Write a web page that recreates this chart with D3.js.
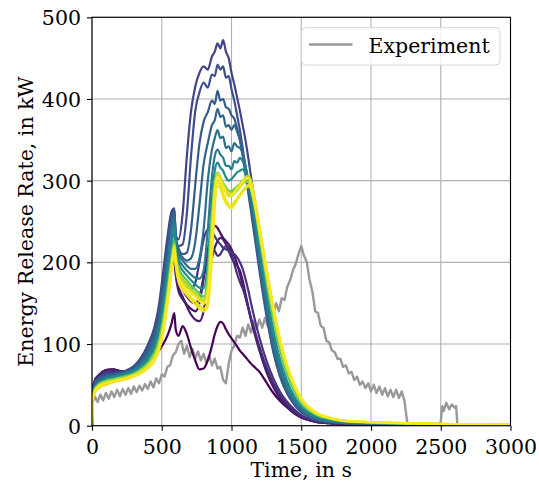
<!DOCTYPE html>
<html>
<head>
<meta charset="utf-8">
<script src="https://cdn.jsdelivr.net/npm/d3@7"></script>
<style>
  html, body { margin: 0; padding: 0; background: #fff; }
  svg { display: block; font-family: "DejaVu Serif", serif; }
</style>
</head>
<body>
<svg id="chart" width="539" height="487"></svg>
<script>
// ---------------- DATA ----------------
const xTicks = [0, 500, 1000, 1500, 2000, 2500, 3000];
const yTicks = [0, 100, 200, 300, 400, 500];
const xLabel = "Time, in s";
const yLabel = "Energy Release Rate, in kW";
const legendLabel = "Experiment";

// Experiment (time in s, HRR in kW)
const expTime = [0,5,20,40,60,80,100,120,140,160,180,200,220,240,260,280,300,320,340,360,380,400,420,440,460,480,500,520,540,560,580,600,620,640,660,680,700,720,740,760,780,800,820,840,860,880,900,920,940,960,980,1000,1020,1040,1060,1080,1100,1120,1140,1160,1180,1200,1220,1240,1260,1280,1300,1320,1340,1360,1380,1400,1420,1440,1460,1480,1500,1520,1540,1560,1580,1600,1620,1640,1660,1680,1700,1720,1740,1760,1780,1800,1820,1840,1860,1880,1900,1920,1940,1960,1980,2000,2020,2040,2060,2080,2100,2120,2140,2160,2180,2200,2220,2240,2260,2280,2300,2320,2340,2360,2380,2400,2420,2440,2460,2480,2500,2510,2520,2540,2560,2580,2600,2610,2620,2700,2800,2900,3000];
const expHRR = [0,28,36,29,38,31,40,33,42,35,44,36,45,38,46,39,48,41,49,43,51,45,54,47,58,52,63,60,72,74,86,90,100,104,88,98,84,94,82,91,80,88,77,86,74,82,70,72,56,52,76,92,98,110,108,120,110,124,114,128,118,130,120,132,122,136,138,150,140,156,154,170,178,190,198,210,220,208,200,178,164,140,138,122,120,104,102,92,90,82,82,72,74,64,66,56,60,50,54,46,52,42,50,40,48,38,46,36,44,35,44,34,42,30,4,2,1,3,1,2,1,2,1,3,1,2,4,24,18,28,20,26,22,24,0,0,0,0,0];

// Simulation runs (common time grid, HRR in kW); runParam drives the viridis colour
const simTime = [0,5,20,50,100,150,200,250,300,350,
                 400,450,480,510,540,570,590,600,620,650,
                 680,710,740,770,800,830,860,880,900,920,
                 940,960,980,1000,1020,1040,1060,1080,1100,1120,
                 1140,1170,1200,1250,1300,1350,1400,1450,1500,1600,
                 1700,1800,2000,2300,2600,3000];

const run01 = [0,45,55,62,68,69,67,66,68,72, 78,86,92,100,110,125,138,118,110,122, 112,95,80,69,70,80,98,112,122,127, 125,118,112,107,102,97,92,88,84,80, 76,71,66,53,40,30,22,15,10,5, 3,2,1.2,0.8,0.5,0.3];
const run02 = [0,44,55,62,68,69,67,66,68,73, 82,96,110,130,160,192,205,185,165,155, 148,143,140,150,180,215,238,245,242,236, 230,226,222,216,208,198,186,172,158,144, 130,112,95,70,50,35,24,16,11,5, 3,2,1.2,0.8,0.5,0.3];
const run03 = [0,44,54,61,67,68,67,66,68,73, 83,98,113,135,166,196,210,188,170,158, 146,136,130,128,140,175,205,218,226,230, 228,222,214,206,200,196,190,178,162,146, 130,110,92,66,47,33,23,15,10,5, 3,2,1.2,0.8,0.5,0.3];
const run04 = [0,43,54,61,66,67,66,66,68,74, 85,102,118,142,175,205,218,196,178,166, 158,152,150,158,182,205,216,214,208,210, 216,220,218,210,198,186,176,168,158,145, 132,114,97,72,52,37,26,18,12,6, 3.5,2.2,1.3,0.9,0.6,0.3];
const run05 = [0,43,53,60,65,66,66,66,69,75, 87,106,124,150,185,215,226,204,186,176, 170,168,175,200,228,240,238,232,226,222, 218,216,214,212,210,206,200,192,180,166, 150,128,108,80,58,41,29,20,13,6.5, 3.8,2.4,1.4,0.9,0.6,0.3];
const run06 = [0,42,53,59,63,64,65,68,73,83, 99,122,148,188,230,262,266,234,228,260, 330,385,415,432,440,436,452,458,468,462, 472,458,450,432,418,402,386,368,350,328, 305,270,228,160,105,68,44,29,19,9, 5,3.4,2.3,1.6,1.1,0.6];
const run07 = [0,41,52,58,62,63,64,67,72,81, 96,118,142,180,222,258,265,232,220,222, 260,330,385,408,420,414,430,428,442,436, 440,426,428,412,398,380,362,340,318,300, 280,240,200,140,92,60,39,26,17,8, 4.6,3.2,2.2,1.5,1,0.6];
const run08 = [0,40,51,57,61,63,64,67,71,79, 93,114,136,172,214,252,263,230,217,210, 212,240,295,345,372,384,398,394,410,398, 400,390,388,380,376,364,350,330,308,285, 262,226,190,135,90,59,39,26,17,8, 4.6,3.2,2.2,1.5,1,0.6];
const run09 = [0,39,49,56,60,62,64,66,70,78, 90,110,130,164,206,246,260,228,214,206, 202,205,225,270,320,346,368,374,388,378, 380,366,368,362,368,360,350,334,314,292, 270,234,198,142,96,63,42,28,18,8.5, 4.8,3.3,2.3,1.6,1.1,0.6];
const run10 = [0,38,48,54,59,61,63,65,69,76, 87,105,124,156,198,240,256,226,210,202, 196,192,192,205,240,300,338,352,362,352, 354,340,342,336,346,342,340,334,318,298, 276,240,204,148,102,68,45,30,20,9.5, 5.4,3.6,2.5,1.7,1.1,0.7];
const run11 = [0,37,47,53,58,60,62,64,68,74, 84,100,118,148,190,232,250,222,205,196, 190,185,181,180,190,240,305,330,338,332, 328,318,318,314,324,322,328,324,316,302, 282,248,212,156,108,73,49,33,22,10.5, 6,4,2.8,1.9,1.2,0.7];
const run12 = [0,36,46,52,57,59,61,63,66,72, 81,96,113,140,180,220,240,218,200,190, 184,178,173,169,168,200,280,312,322,316, 312,304,300,302,306,310,312,314,308,298, 284,254,220,165,117,80,54,36,24,12, 7,4.7,3.3,2.2,1.4,0.8];
const run13 = [0,35,45,51,55,57,59,61,64,69, 77,90,105,130,166,206,226,210,194,184, 178,172,167,162,158,185,262,298,310,304, 297,292,288,287,290,293,296,300,302,300, 290,264,232,178,130,91,62,42,28,14, 8.5,5.7,3.8,2.5,1.7,1];
const run14 = [0,34,44,50,54,56,58,60,63,68, 75,87,101,125,160,200,222,207,190,180, 174,168,163,158,154,175,250,292,306,300, 292,286,282,281,284,288,292,296,299,298, 290,266,236,184,137,97,67,46,30,15, 9,6,4,2.7,1.8,1];
const run15 = [0,33,43,49,53,55,57,59,62,66, 73,84,97,120,155,196,220,204,186,176, 170,165,160,156,152,168,240,292,309,304, 296,290,286,284,287,292,296,300,304,306, 300,276,245,194,146,104,73,50,33,16.5, 9.8,6.3,4.4,2.9,2,1.2];
const run16 = [0,30,40,46,50,53,55,57,60,64, 70,80,92,113,146,188,214,198,178,168, 162,157,152,147,143,150,215,275,298,295, 285,276,271,270,274,278,283,288,292,295, 290,268,238,186,140,100,70,48,32,16, 9.5,6,4.2,2.8,1.9,1.1];
const run17 = [0,31,41,47,51,54,56,58,61,65, 72,83,95,118,152,194,216,196,176,166, 160,154,148,144,140,146,205,268,294,290, 280,272,268,266,270,276,281,286,290,293, 292,270,240,190,143,102,72,50,33,16.5, 9.8,6.2,4.3,2.9,2,1.1];
const run18 = [0,32,42,48,52,54,56,58,61,65, 71,82,94,116,150,192,218,200,182,172, 166,162,158,153,149,160,230,285,305,300, 292,285,280,282,285,290,293,298,302,303, 296,272,243,192,145,105,74,51,34,17, 10,6.5,4.5,3,2,1.2];

const runParam = [0.00,0.04,0.08,0.12,0.15,0.20,0.24,0.28,0.32,0.36,0.42,0.48,0.75,0.85,0.92,0.96,0.98,1.00];
const runs = [run01,run02,run03,run04,run05,run06,run07,run08,run09,run10,run11,run12,run13,run14,run15,run16,run17,run18];

// ---------------- CHART ----------------
const svg = d3.select("#chart");
const L = 92, R = 510.5, T = 17.3, B = 425.7;
const FONT = 20.5;

const x = d3.scaleLinear().domain([0, 3000]).range([L, R]);
const y = d3.scaleLinear().domain([0, 500]).range([B, T]);
const color = d3.scaleSequential(d3.interpolateViridis).domain([0, 1]);

svg.append("rect").attr("x",0).attr("y",0).attr("width",539).attr("height",487).attr("fill","#fff");

svg.append("defs").append("clipPath").attr("id","clip")
  .append("rect").attr("x",L).attr("y",T).attr("width",R-L).attr("height",B-T);

// grid
const grid = svg.append("g");
grid.selectAll(".gx").data(xTicks).join("line")
  .attr("x1", d => x(d)).attr("x2", d => x(d)).attr("y1", T).attr("y2", B)
  .attr("stroke", "#b0b0b0").attr("stroke-width", 1.1);
grid.selectAll(".gy").data(yTicks).join("line")
  .attr("y1", d => y(d)).attr("y2", d => y(d)).attr("x1", L).attr("x2", R)
  .attr("stroke", "#b0b0b0").attr("stroke-width", 1.1);

const plot = svg.append("g").attr("clip-path","url(#clip)");

// experiment
const expData = expTime.map((t, i) => [t, expHRR[i]]);
plot.append("path").datum(expData)
  .attr("fill","none").attr("stroke","#999999").attr("stroke-width",2.4)
  .attr("stroke-linejoin","round")
  .attr("d", d3.line().x(d => x(d[0])).y(d => y(d[1])));

// simulations
const simLine = d3.line().x(d => x(d[0])).y(d => y(d[1])).curve(d3.curveMonotoneX);
runs.forEach((vals, i) => {
  const pts = simTime.map((t, k) => [t, vals[k]]);
  plot.append("path").datum(pts)
    .attr("fill","none").attr("stroke", color(runParam[i])).attr("stroke-width",2.2)
    .attr("stroke-linejoin","round")
    .attr("d", simLine);
});

// axes
const xAxis = svg.append("g").attr("transform",`translate(0,${B})`)
  .call(d3.axisBottom(x).tickValues(xTicks).tickSize(5).tickSizeOuter(0).tickFormat(d3.format("d")));
xAxis.select(".domain").remove();
xAxis.selectAll("line").attr("stroke","#000").attr("stroke-width",1.1);
xAxis.selectAll("text").attr("y", 28).attr("dy", 0)
  .attr("font-family","DejaVu Serif").attr("font-size", FONT).attr("fill","#000");

const yAxis = svg.append("g").attr("transform",`translate(${L},0)`)
  .call(d3.axisLeft(y).tickValues(yTicks).tickSize(5).tickSizeOuter(0).tickFormat(d3.format("d")));
yAxis.select(".domain").remove();
yAxis.selectAll("line").attr("stroke","#000").attr("stroke-width",1.1);
yAxis.selectAll("text").attr("x", -11).attr("dy", 0).attr("y", 7.5)
  .attr("font-family","DejaVu Serif").attr("font-size", FONT).attr("fill","#000");

// frame
svg.append("rect").attr("x",L).attr("y",T).attr("width",R-L).attr("height",B-T)
  .attr("fill","none").attr("stroke","#000").attr("stroke-width",1.1);

// labels
svg.append("text").attr("x",(L+R)/2).attr("y",477).attr("text-anchor","middle")
  .attr("font-size",FONT).attr("fill","#000").text(xLabel);
svg.append("text").attr("transform",`translate(33,${(T+B)/2}) rotate(-90)`)
  .attr("text-anchor","middle").attr("font-size",FONT).attr("fill","#000").text(yLabel);

// legend
const lg = svg.append("g");
lg.append("rect").attr("x",301.7).attr("y",27.7).attr("width",198.3).attr("height",37.3)
  .attr("rx",4).attr("fill","#fff").attr("fill-opacity",0.8).attr("stroke","#d6d6d6").attr("stroke-width",1);
lg.append("line").attr("x1",309).attr("x2",352.5).attr("y1",44.5).attr("y2",44.5)
  .attr("stroke","#999999").attr("stroke-width",2.4);
lg.append("text").attr("x",368.5).attr("y",52.5).attr("font-size",FONT).attr("fill","#000").text(legendLabel);
</script>
</body>
</html>
